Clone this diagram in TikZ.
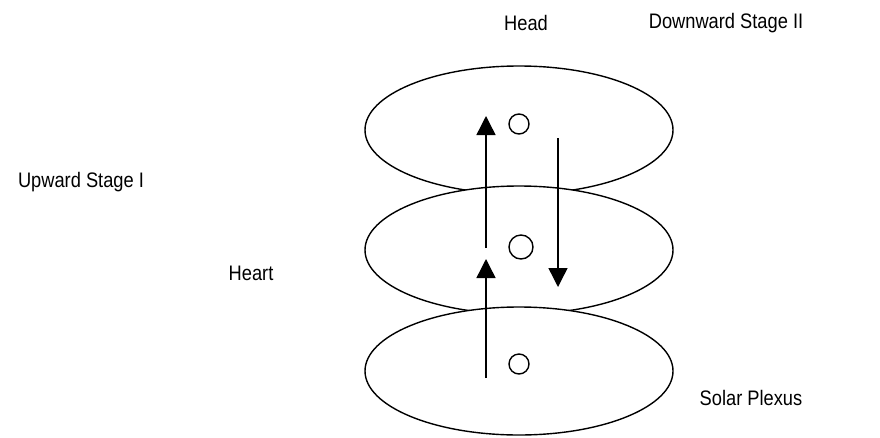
\documentclass[tikz,border=0pt]{standalone}
\usepackage{fontspec}
\setmainfont{Liberation Sans}
\usetikzlibrary{shapes.geometric,arrows.meta}
\begin{document}
\begin{tikzpicture}[x=1pt,y=-1pt,
  layer/.style={draw=black,line width=1.4pt,fill=white,ellipse,minimum width=308pt,minimum height=128pt,inner sep=0pt},
  dot/.style={draw=black,line width=1.4pt,circle,inner sep=0pt,minimum size=#1},
  flow/.style={line width=1.4pt,-{Triangle[width=19pt,length=19pt]}},
  lbl/.style={anchor=center,inner sep=0pt,xscale=0.87,font=\fontsize{21}{25}\selectfont}]
\useasboundingbox[fill=white] (0,0) rectangle (880,437);
\node[layer] (head) at (519,130) {};
\node[layer] (heart) at (519,250) {};
\node[layer] (solar) at (519,371) {};
\node[dot=20pt] (c1) at (519,124) {};
\node[dot=24pt] (c2) at (521,247) {};
\node[dot=20pt] (c3) at (519,364) {};
\coordinate (u1s) at (486,378);
\coordinate (u1e) at (486,259);
\coordinate (u2s) at (486,248);
\coordinate (u2e) at (486,116);
\coordinate (ds) at (558,138);
\coordinate (de) at (558,287);
\draw[flow] (u1s) -- (u1e);
\draw[flow] (u2s) -- (u2e);
\draw[flow] (ds) -- (de);
\node[lbl] (thead) at (526,23) {Head};
\node[lbl] (tdown) at (726,23) {Downward Stage II};
\node[lbl] (tup) at (81,182) {Upward Stage I};
\node[lbl] (theart) at (251,273) {Heart};
\node[lbl] (tsolar) at (751,398) {Solar Plexus};
\end{tikzpicture}
\end{document}
